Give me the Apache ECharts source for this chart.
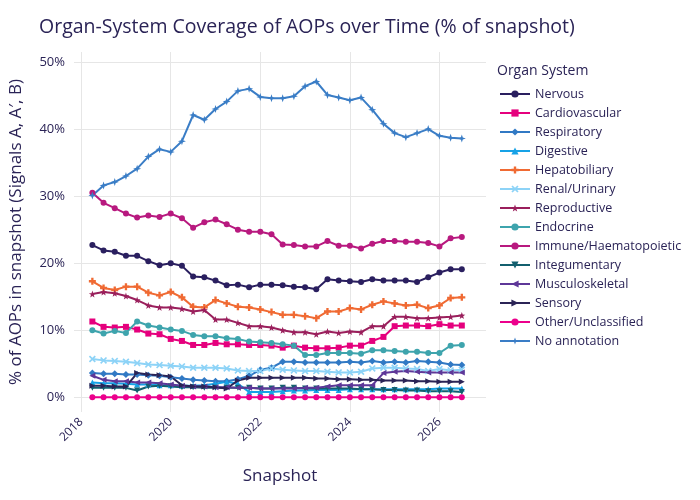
<!DOCTYPE html>
<html>
<head>
<meta charset="utf-8">
<script src="https://cdn.jsdelivr.net/npm/echarts@6/dist/echarts.min.js"></script>
<style>
  html, body { margin: 0; padding: 0; background: #fff; }
  #chart { width: 700px; height: 500px; }
</style>
</head>
<body>
<div id="chart"></div>
<script>
// snapshot dates as decimal years (quarterly)
const snapshots = [2018.25, 2018.5, 2018.75, 2019, 2019.25, 2019.5, 2019.75, 2020, 2020.25, 2020.5, 2020.75,
  2021, 2021.25, 2021.5, 2021.75, 2022, 2022.25, 2022.5, 2022.75, 2023, 2023.25, 2023.5, 2023.75,
  2024, 2024.25, 2024.5, 2024.75, 2025, 2025.25, 2025.5, 2025.75, 2026, 2026.25, 2026.5];

const xTicks = [2018, 2020, 2022, 2024, 2026];
const yTicks = [0, 10, 20, 30, 40, 50];

const nervous = [22.7, 21.9, 21.7, 21.1, 21.1, 20.3, 19.7, 20.0, 19.6, 18.0, 17.9, 17.4, 16.7, 16.8, 16.4, 16.8, 16.8,
  16.7, 16.5, 16.4, 16.1, 17.6, 17.4, 17.3, 17.2, 17.6, 17.4, 17.4, 17.4, 17.2, 17.9, 18.6, 19.1, 19.1];
const cardiovascular = [11.3, 10.5, 10.4, 10.5, 10.1, 9.5, 9.4, 8.7, 8.4, 7.8, 7.8, 8.1, 7.9, 7.9, 7.8, 7.8, 7.7,
  7.4, 7.7, 7.4, 7.3, 7.3, 7.4, 7.7, 7.7, 8.4, 9.0, 10.6, 10.7, 10.7, 10.6, 10.9, 10.7, 10.7];
const respiratory = [3.6, 3.5, 3.5, 3.4, 3.4, 3.3, 3.2, 3.0, 2.8, 2.6, 2.5, 2.4, 2.4, 2.7, 3.2, 4.1, 4.4,
  5.3, 5.3, 5.2, 5.2, 5.2, 5.2, 5.3, 5.2, 5.4, 5.2, 5.3, 5.2, 5.4, 5.3, 5.2, 4.9, 4.8];
const digestive = [2.2, 2.1, 2.1, 2.0, 1.9, 1.9, 1.8, 1.8, 1.7, 1.7, 1.8, 2.0, 2.3, 2.0, 0.8, 0.8, 0.8,
  0.9, 1.0, 1.0, 1.1, 1.1, 1.1, 1.2, 1.2, 1.2, 1.2, 1.2, 1.2, 1.2, 1.2, 1.3, 1.3, 1.3];
const hepatobiliary = [17.3, 16.3, 16.0, 16.5, 16.5, 15.6, 15.2, 15.7, 14.9, 13.5, 13.4, 14.5, 14.0, 13.5, 13.4, 13.1, 12.7,
  12.3, 12.3, 12.1, 11.8, 12.8, 12.8, 13.3, 13.1, 13.8, 14.3, 14.0, 13.7, 13.8, 13.3, 13.7, 14.8, 14.9];
const renal = [5.7, 5.5, 5.4, 5.3, 5.1, 4.9, 4.8, 4.7, 4.6, 4.4, 4.4, 4.4, 4.3, 4.0, 3.9, 3.9, 4.3,
  4.1, 4.0, 3.9, 3.9, 3.8, 3.7, 3.7, 3.8, 4.3, 4.4, 4.4, 4.3, 4.2, 3.9, 4.2, 4.0, 4.1];
const reproductive = [15.4, 15.7, 15.5, 15.1, 14.5, 13.7, 13.4, 13.4, 13.2, 12.8, 13.0, 11.6, 11.6, 11.1, 10.6, 10.6, 10.4,
  10.0, 9.7, 9.7, 9.4, 9.8, 9.6, 9.8, 9.7, 10.6, 10.6, 12.0, 12.0, 11.8, 11.8, 11.9, 12.0, 12.2];
const endocrine = [10.0, 9.5, 9.9, 9.6, 11.3, 10.7, 10.4, 10.1, 9.9, 9.3, 9.1, 9.1, 8.8, 8.7, 8.3, 8.2, 8.1,
  7.9, 7.7, 6.3, 6.3, 6.6, 6.6, 6.6, 6.5, 7.0, 7.0, 6.9, 6.8, 6.8, 6.6, 6.6, 7.7, 7.8];
const immune = [30.5, 29.0, 28.2, 27.4, 26.8, 27.1, 26.9, 27.4, 26.7, 25.3, 26.1, 26.5, 25.8, 25.0, 24.7, 24.7, 24.3,
  22.8, 22.7, 22.5, 22.5, 23.3, 22.6, 22.6, 22.2, 22.9, 23.3, 23.3, 23.2, 23.2, 23.0, 22.5, 23.7, 23.9];
const integumentary = [1.4, 1.4, 1.4, 1.4, 1.0, 1.6, 1.7, 1.6, 1.5, 1.5, 1.4, 1.4, 1.4, 1.4, 1.4, 1.3, 1.3,
  1.4, 1.4, 1.3, 1.3, 1.3, 1.3, 1.3, 1.2, 1.2, 1.1, 1.1, 1.0, 1.0, 0.9, 0.9, 0.9, 0.8];
const musculoskeletal = [3.2, 2.6, 2.4, 2.4, 2.2, 2.2, 2.1, 1.9, 1.7, 1.6, 1.6, 1.5, 1.5, 1.4, 1.4, 1.3, 1.3,
  1.3, 1.3, 1.4, 1.4, 1.6, 1.8, 1.8, 1.8, 1.8, 3.6, 3.8, 3.9, 3.8, 3.7, 3.7, 3.7, 3.7];
const sensory = [1.7, 1.7, 1.6, 1.6, 3.6, 3.4, 3.3, 3.1, 1.8, 1.6, 1.6, 1.5, 1.3, 2.5, 2.9, 2.9, 2.9,
  2.9, 2.9, 2.9, 2.8, 2.8, 2.7, 2.7, 2.6, 2.6, 2.5, 2.5, 2.5, 2.4, 2.4, 2.3, 2.3, 2.3];
const other = [0, 0, 0, 0, 0, 0, 0, 0, 0, 0, 0, 0, 0, 0, 0, 0, 0,
  0, 0, 0, 0, 0, 0, 0, 0, 0, 0, 0, 0, 0, 0, 0, 0, 0];
const noAnnotation = [30.1, 31.6, 32.1, 33.0, 34.1, 35.9, 37.0, 36.6, 38.2, 42.1, 41.4, 43.0, 44.1, 45.7, 46.0, 44.8, 44.6,
  44.6, 44.9, 46.4, 47.1, 45.1, 44.7, 44.3, 44.7, 42.9, 40.8, 39.4, 38.8, 39.4, 40.0, 39.0, 38.7, 38.6];

const textColor = '#2a2356';
const CROSS = 'path://M-1,-3H1V-1H3V1H1V3H-1V1H-3V-1H-1Z';
const XMARK = 'path://M-2,-3L0,-1L2,-3L3,-2L1,0L3,2L2,3L0,1L-2,3L-3,2L-1,0L-3,-2Z';
const STAR = 'path://M0,-5L1.2,-1.6L4.8,-1.5L1.9,0.6L2.9,4L0,2L-2.9,4L-1.9,0.6L-4.8,-1.5L-1.2,-1.6Z';
const STAR4 = 'path://M0,-4L1,-1L4,0L1,1L0,4L-1,1L-4,0L-1,-1Z';

const seriesDefs = [
  ['Nervous', nervous, '#2a1f5f', 'circle', 6, 0],
  ['Cardiovascular', cardiovascular, '#e5007d', 'rect', 6, 0],
  ['Respiratory', respiratory, '#3179c4', 'diamond', 7, 0],
  ['Digestive', digestive, '#17a2e6', 'triangle', 6, 0],
  ['Hepatobiliary', hepatobiliary, '#f06a33', CROSS, 7, 0],
  ['Renal/Urinary', renal, '#8dd3f7', XMARK, 7, 0],
  ['Reproductive', reproductive, '#9a1f5c', STAR, 7, 0],
  ['Endocrine', endocrine, '#3ea4ad', 'circle', 6, 0],
  ['Immune/Haematopoietic', immune, '#b8197f', 'circle', 6, 0],
  ['Integumentary', integumentary, '#135f6e', 'triangle', 6, 180],
  ['Musculoskeletal', musculoskeletal, '#5e3798', 'triangle', 6, 90],
  ['Sensory', sensory, '#2b2456', 'triangle', 6, -90],
  ['Other/Unclassified', other, '#ec008c', 'circle', 6, 0],
  ['No annotation', noAnnotation, '#3a7dc6', STAR4, 8, 0]
];

const chart = echarts.init(document.getElementById('chart'));

const series = seriesDefs.map(([name, vals, color, symbol, size, rot]) => ({
  name: name,
  type: 'line',
  data: snapshots.map((d, i) => [d, vals[i]]),
  symbol: symbol,
  symbolSize: size,
  symbolRotate: rot,
  showAllSymbol: true,
  lineStyle: { color: color, width: 2 },
  itemStyle: { color: color },
  emphasis: { disabled: true },
  animation: false
}));

chart.setOption({
  textStyle: { fontFamily: 'Open Sans' },
  title: {
    text: 'Organ-System Coverage of AOPs over Time (% of snapshot)',
    left: 34,
    top: 12,
    textStyle: { fontSize: 19.5, fontWeight: 'normal', color: textColor, fontFamily: 'Open Sans' }
  },
  legend: {
    orient: 'vertical',
    left: 494,
    top: 82,
    itemWidth: 30,
    itemHeight: 9,
    itemGap: 5,
    textStyle: { fontSize: 12.5, color: textColor, fontFamily: 'Open Sans', lineHeight: 14 },
    data: seriesDefs.map(d => d[0])
  },
  graphic: [{
    type: 'text',
    left: 497,
    top: 64,
    style: { text: 'Organ System', fontSize: 14, fill: textColor, fontFamily: 'Open Sans' }
  }],
  grid: { left: 72, right: 214, top: 52, bottom: 88 },
  xAxis: {
    type: 'value',
    min: 2017.84,
    max: 2027.04,
    name: 'Snapshot',
    nameLocation: 'middle',
    nameGap: 56,
    nameTextStyle: { fontSize: 17, color: textColor },
    axisLine: { show: false },
    axisTick: { show: false, customValues: xTicks },
    axisLabel: {
      customValues: xTicks,
      rotate: 45,
      fontSize: 12,
      color: textColor,
      margin: 8,
      formatter: v => String(v)
    },
    splitLine: { show: true, lineStyle: { color: '#e6e6e6', width: 1 } }
  },
  yAxis: {
    type: 'value',
    min: -2.2,
    max: 51.5,
    name: '% of AOPs in snapshot (Signals A, A\u2032, B)',
    nameLocation: 'middle',
    nameGap: 49,
    nameTextStyle: { fontSize: 17, color: textColor },
    axisLine: { show: false },
    axisTick: { show: false, customValues: yTicks },
    axisLabel: {
      customValues: yTicks,
      fontSize: 13,
      color: textColor,
      margin: 9,
      formatter: v => v + '%'
    },
    splitLine: { show: true, lineStyle: { color: '#e6e6e6', width: 1 } }
  },
  series: series
});
</script>
</body>
</html>
